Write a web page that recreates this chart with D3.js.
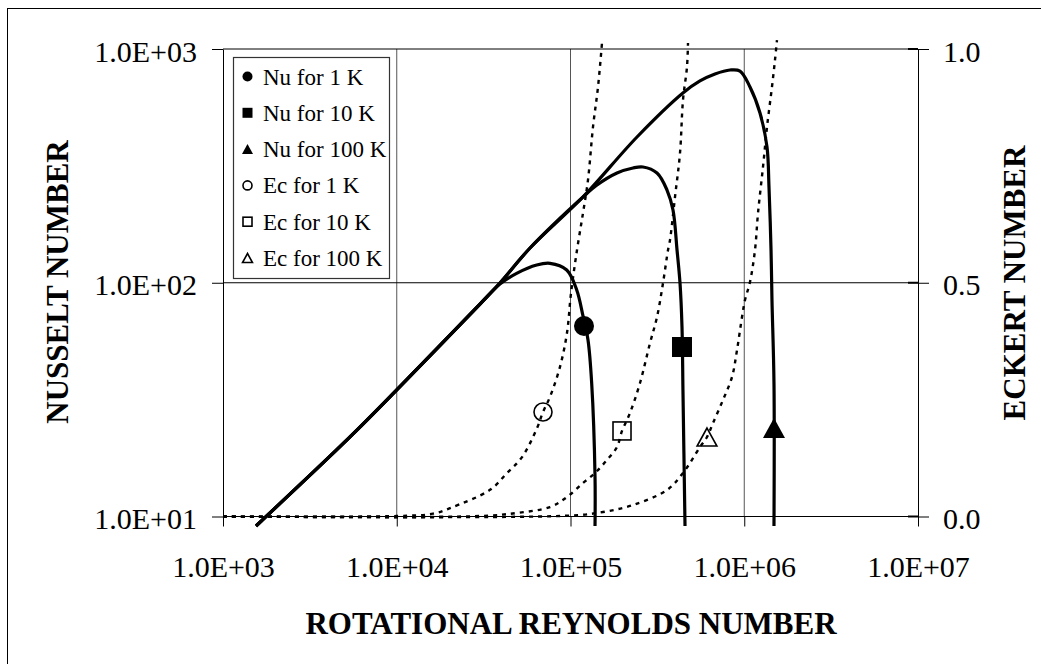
<!DOCTYPE html>
<html><head><meta charset="utf-8">
<script src="https://cdn.jsdelivr.net/npm/d3@7"></script>
<style>
body{margin:0;background:#fff}
svg{display:block}
text{font-family:"Liberation Serif","Times New Roman",Times,serif;fill:#000}
</style>
</head><body>
<svg id="chart" width="1041" height="664"></svg>
<script>
// ---- tick values and labels ----
const xTicks = [1e3, 1e4, 1e5, 1e6, 1e7];
const xTickLabels = ["1.0E+03", "1.0E+04", "1.0E+05", "1.0E+06", "1.0E+07"];
const yTicks = [10, 100, 1000];
const yTickLabels = ["1.0E+01", "1.0E+02", "1.0E+03"];
const y2Ticks = [0, 0.5, 1.0];
const y2TickLabels = ["0.0", "0.5", "1.0"];

// ---- series: [rotational Reynolds number, value] ----
const nu1K = [[1549,9.11],[5383,21.9],[10000,34.8],[30130,81.1],[39260,98.8],[48980,109.7],[63900,119.1],[76200,121.1],[95100,113.4],[108600,93.1],[118000,72.1],[126100,56.9],[132400,37.2],[138400,14.8],[138400,9.11]];
const nu10K = [[1549,9.11],[5383,21.9],[10000,34.8],[30130,81.1],[39260,99.8],[58500,140.8],[118000,232.7],[142100,261.9],[185200,294.8],[228900,309.7],[261400,312.8],[314700,294.8],[359300,249.3],[389000,204.8],[410300,138.1],[426800,99.8],[438200,64.7],[444100,33.8],[456100,9.11]];
const nu100K = [[1549,9.11],[5383,21.9],[10000,34.8],[30130,81.1],[39260,99.8],[58500,140.8],[118000,232.7],[241400,420.3],[443600,648],[556000,729.7],[678600,781.6],[827900,813],[945100,805],[1079000,687.8],[1232000,532.3],[1352000,380.7],[1388000,256.8],[1426000,138.1],[1444000,84.4],[1483000,37.2],[1483000,9.11]];
const ec1K = [[1000,0],[10000,0.001],[16170,0.006],[20260,0.018],[34420,0.057],[43110,0.093],[52590,0.127],[64170,0.189],[69460,0.2235],[76210,0.256],[87000,0.320],[95470,0.393],[100700,0.478],[109000,0.570],[118000,0.649],[126100,0.720],[134700,0.833],[144000,0.919],[151800,1.013]];
const ec10K = [[1000,0],[30000,0.001],[48980,0.0075],[76210,0.0203],[95470,0.0417],[118000,0.0717],[138400,0.093],[162200,0.121],[185200,0.1487],[197900,0.183],[220000,0.2214],[251200,0.2856],[286900,0.3711],[314700,0.4267],[340800,0.4995],[364100,0.570],[373800,0.5914],[399400,0.6834],[426800,0.7775],[444100,0.891],[468200,0.9615],[474500,1.013]];
const ec100K = [[1000,0],[100000,0.002],[153800,0.0096],[228900,0.0246],[359300,0.0567],[444100,0.093],[556300,0.1487],[610400,0.170],[660900,0.200],[754500,0.2492],[850300,0.2984],[908500,0.3561],[970700,0.4267],[1010000,0.4631],[1079000,0.5016],[1153000,0.570],[1200000,0.649],[1282000,0.7476],[1352000,0.833],[1444000,0.919],[1503000,0.9765],[1543000,1.019]];

// marker points (one per series)
const nuMarkers = [[119600,65.3],[438200,53.1],[1483000,23.9]];
const ecMarkers = [[69460,0.2235],[197900,0.183],[610400,0.170]];
const markerShapes = ["circle","square","triangle"];
const legendLabels = ["Nu for 1 K","Nu for 10 K","Nu for 100 K","Ec for 1 K","Ec for 10 K","Ec for 100 K"];

const svg = d3.select("#chart");
const FONT = '"Liberation Serif","Times New Roman",Times,serif';

// outer border
svg.append("rect").attr("x",7.5).attr("y",8.5).attr("width",1040).attr("height",660)
  .attr("fill","none").attr("stroke","#000").attr("stroke-width",1);

const x = d3.scaleLog().domain([1e3,1e7]).range([223,918]);
const y = d3.scaleLog().domain([10,1000]).range([516.5,49]);
const y2 = d3.scaleLinear().domain([0,1]).range([516.5,49]);

// gridlines
const grid = svg.append("g").attr("stroke","#000").attr("stroke-width",1);
grid.selectAll("line.v").data(xTicks.slice(1,4)).join("line")
  .attr("x1",d=>x(d)).attr("x2",d=>x(d)).attr("y1",y(1000)).attr("y2",y(10)).attr("stroke","#555");
grid.selectAll("line.h").data(yTicks).join("line")
  .attr("x1",223).attr("x2",918).attr("y1",d=>y(d)).attr("y2",d=>y(d));
// right axis cross ticks inside
grid.selectAll("line.rc").data(y2Ticks).join("line")
  .attr("x1",908).attr("x2",918).attr("y1",d=>y2(d)).attr("y2",d=>y2(d)).attr("stroke-width",2);

// axes
function styleAxis(g){
  g.attr("font-family",FONT).attr("font-size",30);
  g.selectAll("line,path").attr("stroke","#000").attr("stroke-width",1);
  g.selectAll("text").attr("fill","#000");
}
svg.append("g").attr("transform","translate(223,0)")
  .call(d3.axisLeft(y).tickValues(yTicks).tickFormat((d,i)=>yTickLabels[i]).tickSize(11).tickSizeOuter(0).tickPadding(15))
  .call(styleAxis).call(g=>g.selectAll("text").attr("dy","0.4em"));
svg.append("g").attr("transform","translate(918,0)")
  .call(d3.axisRight(y2).tickValues(y2Ticks).tickFormat((d,i)=>y2TickLabels[i]).tickSize(11).tickSizeOuter(0).tickPadding(14))
  .call(styleAxis).call(g=>g.selectAll("text").attr("dy","0.4em"));
svg.append("g").attr("transform","translate(0,516.5)")
  .call(d3.axisBottom(x).tickValues(xTicks).tickFormat((d,i)=>xTickLabels[i]).tickSize(10).tickSizeOuter(0).tickPadding(29))
  .call(styleAxis).call(g=>g.select(".domain").remove());

// axis titles
svg.append("text").attr("x",571).attr("y",634).attr("text-anchor","middle")
  .attr("font-size",31).attr("font-weight","bold").text("ROTATIONAL REYNOLDS NUMBER");
svg.append("text").attr("transform","translate(68,282) rotate(-90)").attr("text-anchor","middle")
  .attr("font-size",31).attr("font-weight","bold").text("NUSSELT NUMBER");
svg.append("text").attr("transform","translate(1025,283) rotate(-90)").attr("text-anchor","middle")
  .attr("font-size",31).attr("font-weight","bold").text("ECKERT NUMBER");

// lines
const lineNu = d3.line().x(d=>x(d[0])).y(d=>y(d[1])).curve(d3.curveCatmullRom.alpha(0.5));
const lineEc = d3.line().x(d=>x(d[0])).y(d=>y2(d[1])).curve(d3.curveCatmullRom.alpha(0.5));
const plot = svg.append("g");
[ec1K, ec10K, ec100K].forEach(s=>{
  plot.append("path").attr("d",lineEc(s)).attr("fill","none").attr("stroke","#000")
    .attr("stroke-width",2.4).attr("stroke-dasharray","4,5");
});
[nu1K, nu10K, nu100K].forEach(s=>{
  plot.append("path").attr("d",lineNu(s)).attr("fill","none").attr("stroke","#000")
    .attr("stroke-width",3.2).attr("stroke-linejoin","round");
});

function marker(g, shape, filled, cx, cy, s){
  let el;
  if(shape==="circle"){
    el = g.append("circle").attr("cx",cx).attr("cy",cy).attr("r",s/2);
  } else if(shape==="square"){
    el = g.append("rect").attr("x",cx-s/2).attr("y",cy-s/2).attr("width",s).attr("height",s);
  } else {
    const w = s*1.1, h = s;
    el = g.append("path").attr("d",`M${cx},${cy-h/2}L${cx+w/2},${cy+h/2}L${cx-w/2},${cy+h/2}Z`);
  }
  if(filled) el.attr("fill","#000").attr("stroke","none");
  else el.attr("fill","none").attr("stroke","#000").attr("stroke-width",1.6);
  return el;
}
nuMarkers.forEach((d,i)=>marker(plot, markerShapes[i], true, x(d[0]), y(d[1]), 20));
ecMarkers.forEach((d,i)=>marker(plot, markerShapes[i], false, x(d[0]), y2(d[1]), 18));

// legend
const lg = svg.append("g");
lg.append("rect").attr("x",233.5).attr("y",57.5).attr("width",156).attr("height",221)
  .attr("fill","#fff").attr("stroke","#333").attr("stroke-width",1.2);
legendLabels.forEach((t,i)=>{
  const cy = 76.5 + i*36.3;
  marker(lg, markerShapes[i%3], i<3, 247.5, cy, i<3 ? 10 : 9);
  lg.append("text").attr("x",263).attr("y",cy+8).attr("font-size",23).text(t);
});
</script>
</body></html>
